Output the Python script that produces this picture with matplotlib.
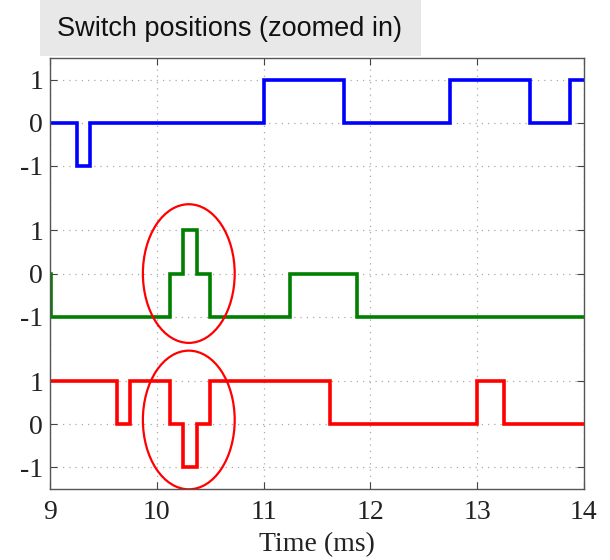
import numpy as np
import matplotlib
matplotlib.use("Agg")
import matplotlib.pyplot as plt
from matplotlib.patches import Ellipse, Rectangle

# switch state changes: (time in ms, new state)
blue_t = [9.0, 9.25, 9.375, 11.0, 11.75, 12.75, 13.5, 13.875, 14.0]
blue_s = [0, -1, 0, 1, 0, 1, 0, 1, 1]
green_t = [9.0, 9.01, 10.125, 10.25, 10.375, 10.5, 11.25, 11.875, 14.0]
green_s = [0, -1, 0, 1, 0, -1, 0, -1, -1]
red_t = [9.0, 9.625, 9.75, 10.125, 10.25, 10.375, 10.5, 11.625, 13.0, 13.25, 14.0]
red_s = [1, 0, 1, 0, -1, 0, 1, 0, 1, 0, 0]

offsets = [7.0, 3.5, 0.0]   # vertical stacking of the three switches
colors = ['#0000ff', '#008000', '#ff0000']

fig = plt.figure(figsize=(6.1, 5.6), dpi=100)
ax = fig.add_axes([0.082, 0.127, 0.875, 0.769])

for (t, s), off, c in zip([(blue_t, blue_s), (green_t, green_s), (red_t, red_s)], offsets, colors):
    ax.step(t, np.array(s) + off, where='post', color=c, lw=2.6, solid_joinstyle='miter')

# highlight the switching event around 10.3 ms
for yc in [3.5, 0.1]:
    ax.add_patch(Ellipse((10.3, yc), 0.86, 3.22, fill=False, ec='#ff0000', lw=1.6, zorder=5))

yt = [o + v for o in offsets for v in (-1, 0, 1)]
ax.set_yticks(yt)
ax.set_yticklabels(['-1', '0', '1'] * 3)
ax.set_xticks([9, 10, 11, 12, 13, 14])
ax.set_xlim(9, 14)
ax.set_ylim(-1.5, 8.5)

serif = 'Liberation Serif'
for lab in ax.get_xticklabels() + ax.get_yticklabels():
    lab.set_fontfamily(serif)
    lab.set_fontsize(20)
    lab.set_color('#222222')
ax.set_xlabel('Time (ms)', fontfamily=serif, fontsize=20, color='#222222', labelpad=5)

ax.tick_params(direction='in', top=True, right=True, length=5, color='#444444')
ax.tick_params(axis='x', pad=8)
ax.tick_params(axis='y', pad=5)
ax.grid(True, linestyle=(0, (1, 4)), color='#aaaaaa', lw=0.9)
for sp in ax.spines.values():
    sp.set_color('#555555')
    sp.set_linewidth(1.0)

# title panel
fig.patches.append(Rectangle((40 / 610, 1 - 56 / 560), 381 / 610, 56 / 560,
                             transform=fig.transFigure, facecolor='#e8e8e8',
                             edgecolor='none', zorder=0))
fig.text(57 / 610, 1 - 29 / 560, 'Switch positions (zoomed in)', fontfamily='Liberation Sans',
         fontsize=19.5, va='center', ha='left', color='#111111')

fig.savefig('out.png', dpi=100)
